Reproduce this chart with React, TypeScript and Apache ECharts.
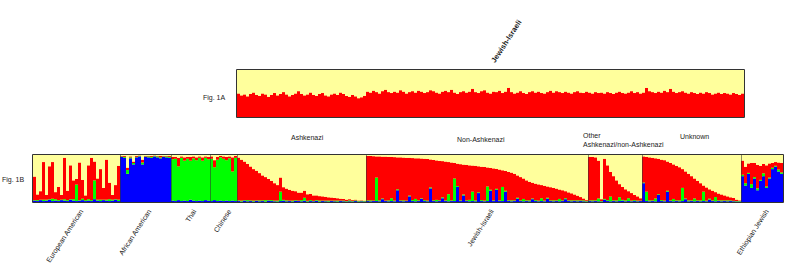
import React, { useEffect, useRef } from "react";
import * as echarts from "echarts";

// ---------- Fig. 1A : Jewish-Israeli, two clusters (red share; yellow is the remainder)
const fig1ARed = [
  0.50,0.46,0.48,0.44,0.49,0.52,0.47,0.45,0.50,0.48,
  0.43,0.47,0.51,0.46,0.49,0.53,0.48,0.44,0.47,0.50,
  0.55,0.49,0.46,0.48,0.52,0.47,0.45,0.49,0.51,0.46,
  0.44,0.48,0.50,0.47,0.52,0.49,0.45,0.43,0.47,0.44,
  0.40,0.42,0.45,
  0.54,0.52,0.56,0.53,0.50,0.55,0.58,0.53,0.51,0.54,
  0.52,0.57,0.54,0.50,0.53,0.55,0.52,0.56,0.54,0.51,
  0.53,0.57,0.55,0.52,0.50,0.54,0.56,0.53,0.58,0.52,
  0.49,0.53,0.55,0.52,0.54,0.60,0.53,0.51,0.55,0.57,
  0.52,0.50,0.54,0.53,0.56,0.51,0.54,0.62,0.53,0.50,
  0.52,0.55,0.51,0.49,0.53,0.55,0.52,0.54,0.51,0.50,
  0.53,0.56,0.52,0.55,0.53,0.51,0.54,0.52,0.50,0.53,
  0.55,0.52,0.51,0.54,0.52,0.50,0.53,0.51,
  0.52,0.50,0.53,0.51,0.49,0.52,0.54,0.51,0.50,0.52,
  0.55,0.51,0.53,0.50,0.52,0.62,0.55,0.53,0.51,0.54,
  0.52,0.56,0.53,0.60,0.54,0.51,0.53,0.55,0.52,0.50,
  0.53,0.51,0.49,0.52,0.50,0.53,0.51,0.48,0.50,0.52,
  0.49,0.51,0.50,0.48,0.51,0.49,0.47,0.50,
];

// ---------- Fig. 1B : four clusters per population (blue, green, red; yellow is the remainder)
const eaRed = [0.5,0.12,0.18,0.8,0.1,0.7,0.78,0.15,0.28,0.1,0.88,0.2,0.72,0.4,0.12,0.8,0.4,0.1,0.72,0.9,0.4,0.45,0.65,0.25,0.85,0.35,0.1,0.3,0.72];
const eaBlue = [0.03,0.02,0.04,0.02,0.03,0.05,0.02,0.03,0.02,0.04,0.03,0.02,0.05,0.03,0.02,0.03,0.04,0.02,0.03,0.02,0.06,0.03,0.02,0.04,0.03,0.02,0.03,0.05,0.02];
const eaGreen = [0.01,0.02,0.01,0.03,0.02,0.01,0.05,0.03,0.02,0.01,0.03,0.02,0.01,0.03,0.35,0.01,0.03,0.02,0.03,0.02,0.4,0.02,0.03,0.01,0.02,0.04,0.02,0.01,0.03];

const aaBlue = [0.96,0.94,0.6,0.93,0.8,0.95,0.97,0.8,0.96,0.95,0.94,0.97,0.95,0.93,0.96,0.95,0.94];
const aaGreen = [0.01,0.02,0.08,0.02,0.03,0.01,0.01,0.04,0.01,0.02,0.02,0.01,0.02,0.02,0.01,0.02,0.02];
const aaRed = [0.01,0.02,0.05,0.02,0.03,0.02,0.01,0.06,0.01,0.01,0.02,0.01,0.01,0.03,0.01,0.01,0.02];

const thaiBlue = [0.03,0.02,0.04,0.02,0.03,0.02,0.05,0.03,0.02,0.03,0.02,0.04,0.03];
const thaiGreen = [0.88,0.9,0.72,0.92,0.85,0.9,0.83,0.9,0.87,0.91,0.86,0.9,0.88];
const thaiRed = [0.05,0.04,0.18,0.03,0.07,0.04,0.08,0.04,0.06,0.03,0.07,0.03,0.05];

const chBlue = [0.02,0.04,0.02,0.03,0.02,0.03,0.02,0.03,0.02];
const chGreen = [0.9,0.7,0.88,0.92,0.9,0.86,0.91,0.62,0.92];
const chRed = [0.05,0.15,0.06,0.03,0.05,0.07,0.04,0.3,0.04];

const ashRed = [0.91,0.87,0.82,0.77,0.72,0.67,0.63,0.58,0.53,0.49,0.45,0.41,0.37,0.33,0.30,0.27,0.25,0.23,0.21,0.19,0.17,0.16,0.15,0.14,0.13,0.115,0.10,0.095,0.09,0.08,0.07,0.065,0.055,0.05,0.04,0.035,0.03,0.025,0.02,0.015,0.012,0.01,0.008];
const ashBlue = [0.02,0.01,0.03,0.015,0.02,0.01,0.025,0.015,0.02,0.01,0.03,0.02,0.015,0.01,0.02,0.03,0.015,0.02,0.01,0.025,0.02,0.015,0.03,0.01,0.02,0.015,0.025,0.01,0.02,0.015,0.01,0.02,0.015,0.01,0.02,0.015,0.01,0.015,0.01,0.02,0.01,0.015,0.01];
const ashGreen = [0.015,0.02,0.01,0.025,0.015,0.02,0.01,0.02,0.015,0.03,0.01,0.02,0.015,0.02,0.2,0.015,0.02,0.01,0.02,0.015,0.01,0.025,0.06,0.015,0.02,0.01,0.015,0.02,0.01,0.015,0.02,0.01,0.015,0.02,0.01,0.015,0.01,0.02,0.01,0.015,0.01,0.01,0.01];

const nonAshRed = [0.945,0.945,0.945,0.45,0.935,0.89,0.935,0.925,0.88,0.925,0.68,0.915,0.91,0.91,0.805,0.895,0.865,0.895,0.845,0.88,0.885,0.595,0.86,0.84,0.84,0.77,0.825,0.685,0.805,0.33,0.475,0.77,0.635,0.755,0.735,0.555,0.735,0.555,0.71,0.715,0.405,0.465,0.68,0.425,0.655,0.355,0.42,0.605,0.59,0.565,0.475,0.495,0.435,0.425,0.395,0.335,0.35,0.345,0.28,0.315,0.24,0.28,0.265,0.25,0.2,0.215,0.15,0.17,0.15,0.125,0.1,0.07,0.04,0.02];
const nonAshBlue = [0.02,0.015,0.02,0.02,0.015,0.06,0.02,0.015,0.02,0.015,0.25,0.02,0.015,0.02,0.12,0.02,0.015,0.02,0.07,0.02,0.015,0.29,0.02,0.015,0.02,0.08,0.02,0.015,0.02,0.02,0.32,0.02,0.14,0.02,0.015,0.02,0.015,0.19,0.02,0.015,0.02,0.24,0.02,0.26,0.02,0.02,0.22,0.02,0.015,0.02,0.07,0.02,0.015,0.02,0.015,0.06,0.02,0.015,0.02,0.015,0.07,0.02,0.015,0.02,0.015,0.02,0.06,0.02,0.015,0.02,0.015,0.02,0.015,0.01];
const nonAshGreen = [0.015,0.02,0.01,0.5,0.02,0.015,0.01,0.02,0.06,0.015,0.02,0.015,0.02,0.01,0.015,0.02,0.05,0.015,0.01,0.02,0.015,0.02,0.015,0.03,0.015,0.02,0.015,0.15,0.015,0.48,0.02,0.015,0.02,0.015,0.03,0.2,0.02,0.015,0.02,0.015,0.31,0.02,0.015,0.02,0.015,0.3,0.02,0.015,0.02,0.015,0.02,0.015,0.05,0.015,0.02,0.015,0.02,0.015,0.06,0.015,0.02,0.015,0.02,0.015,0.05,0.015,0.02,0.015,0.02,0.015,0.02,0.015,0.02,0.01];

const otherRed = [0.925,0.925,0.915,0.805,0.04,0.855,0.74,0.525,0.515,0.425,0.28,0.275,0.235,0.15,0.16,0.11,0.09,0.05];
const otherBlue = [0.02,0.015,0.02,0.015,0.01,0.05,0.02,0.015,0.02,0.015,0.02,0.03,0.015,0.02,0.015,0.02,0.015,0.02];
const otherGreen = [0.015,0.02,0.015,0.06,0.01,0.015,0.02,0.1,0.015,0.02,0.08,0.015,0.02,0.06,0.015,0.02,0.015,0.01];

const unkRed = [0.555,0.74,0.915,0.905,0.855,0.755,0.86,0.86,0.62,0.795,0.735,0.735,0.705,0.4,0.575,0.565,0.515,0.425,0.415,0.365,0.13,0.28,0.2,0.205,0.105,0.145,0.125,0.105,0.085,0.065,0.06,0.03,0.015];
const unkBlue = [0.4,0.02,0.015,0.02,0.015,0.15,0.02,0.015,0.22,0.02,0.015,0.02,0.015,0.02,0.06,0.015,0.02,0.015,0.02,0.015,0.02,0.015,0.05,0.02,0.015,0.02,0.015,0.02,0.015,0.02,0.015,0.01,0.01];
const unkGreen = [0.015,0.2,0.02,0.015,0.06,0.015,0.02,0.015,0.02,0.015,0.05,0.015,0.02,0.28,0.015,0.02,0.015,0.06,0.015,0.02,0.2,0.015,0.02,0.015,0.09,0.015,0.02,0.015,0.02,0.015,0.01,0.01,0.01];

const ethBlue = [0.55,0.35,0.6,0.3,0.5,0.25,0.45,0.55,0.3,0.5,0.7,0.75,0.65,0.6];
const ethGreen = [0.03,0.05,0.02,0.08,0.03,0.04,0.02,0.06,0.03,0.02,0.03,0.02,0.04,0.03];
const ethRed = [0.3,0.35,0.2,0.45,0.3,0.5,0.3,0.2,0.45,0.3,0.1,0.08,0.15,0.2];

const populations = [
  "European American", "African American", "Thai", "Chinese",
  "Ashkenazi", "Non-Ashkenazi", "Other Ashkenazi/non-Ashkenazi", "Unknown", "Ethiopian Jewish",
];
const popBlue = [eaBlue, aaBlue, thaiBlue, chBlue, ashBlue, nonAshBlue, otherBlue, unkBlue, ethBlue];
const popGreen = [eaGreen, aaGreen, thaiGreen, chGreen, ashGreen, nonAshGreen, otherGreen, unkGreen, ethGreen];
const popRed = [eaRed, aaRed, thaiRed, chRed, ashRed, nonAshRed, otherRed, unkRed, ethRed];

// ---------- layout / style
const G1A = { left: 237, top: 70, width: 507, height: 47 };
const G1B = { left: 33, top: 155, width: 750, height: 47 };
const RED = "#FF0000";
const YELLOW = "#FFFF9C";
const BLUE = "#0000FF";
const GREEN = "#00FF00";
const FONT = "'Liberation Sans', Arial, sans-serif";
const ANG = (57 * Math.PI) / 180;

export default function App() {
  const ref = useRef<HTMLDivElement>(null);

  useEffect(() => {
    const chart = echarts.init(ref.current as HTMLDivElement, null, { renderer: "svg" });

    const yellow1A = fig1ARed.map((r) => Math.max(0, 1 - r));
    const blue1B = popBlue.flat();
    const green1B = popGreen.flat();
    const red1B = popRed.flat();
    const yellow1B = blue1B.map((b, i) => Math.max(0, 1 - b - green1B[i] - red1B[i]));
    const cats1A = fig1ARed.map((_, i) => "a" + i);
    const cats1B = blue1B.map((_, i) => "b" + i);

    const barSeries = (name: string, data: number[], color: string, axis: number, stack: string) => ({
      type: "bar",
      name,
      data,
      xAxisIndex: axis,
      yAxisIndex: axis,
      stack,
      barCategoryGap: "0%",
      itemStyle: { color },
      emphasis: { disabled: true },
    });

    chart.setOption({
      animation: false,
      grid: [
        { ...G1A, show: true, backgroundColor: YELLOW, borderWidth: 0 },
        { ...G1B, show: true, backgroundColor: YELLOW, borderWidth: 0 },
      ],
      xAxis: [
        { type: "category", gridIndex: 0, data: cats1A, show: false },
        { type: "category", gridIndex: 1, data: cats1B, show: false },
      ],
      yAxis: [
        { type: "value", gridIndex: 0, min: 0, max: 1, show: false },
        { type: "value", gridIndex: 1, min: 0, max: 1, show: false },
      ],
      series: [
        barSeries("1A red", fig1ARed, RED, 0, "a"),
        barSeries("1A yellow", yellow1A, YELLOW, 0, "a"),
        barSeries("1B blue", blue1B, BLUE, 1, "b"),
        barSeries("1B green", green1B, GREEN, 1, "b"),
        barSeries("1B red", red1B, RED, 1, "b"),
        barSeries("1B yellow", yellow1B, YELLOW, 1, "b"),
      ],
    });

    // population boundaries and centres, through the category axis
    const px = (i: number) => chart.convertToPixel({ xAxisIndex: 1 }, cats1B[i]) as number;
    const step = px(1) - px(0);
    const edges: number[] = [];
    let acc = 0;
    popBlue.forEach((arr) => {
      edges.push(px(acc) - step / 2);
      acc += arr.length;
    });
    edges.push(px(acc - 1) + step / 2);
    const centre = (k: number) => (edges[k] + edges[k + 1]) / 2;

    const txt = (text: string, x: number, y: number, extra: any = {}) => ({
      type: "text",
      x,
      y,
      z: 100,
      rotation: extra.rotation || 0,
      style: {
        text,
        fill: "#1a1a1a",
        font: `${extra.bold ? "bold " : ""}${extra.size || 7}px ${FONT}`,
        align: extra.align || "left",
        verticalAlign: "middle",
      },
    });

    const graphics: any[] = [
      {
        type: "rect", z: 100,
        shape: { x: G1A.left - 0.5, y: G1A.top - 0.5, width: G1A.width + 1, height: G1A.height + 1 },
        style: { fill: "none", stroke: "#333", lineWidth: 1 },
      },
      {
        type: "rect", z: 100,
        shape: { x: G1B.left - 0.5, y: G1B.top - 0.5, width: G1B.width + 1, height: G1B.height + 1 },
        style: { fill: "none", stroke: "#333", lineWidth: 1 },
      },
    ];
    for (let k = 1; k < edges.length - 1; k++) {
      const x = Math.round(edges[k]) + 0.5;
      graphics.push({
        type: "line", z: 99,
        shape: { x1: x, y1: G1B.top, x2: x, y2: G1B.top + G1B.height },
        style: { stroke: "#333", lineWidth: 0.8, opacity: 0.7 },
      });
    }

    // texts
    graphics.push(txt("Fig. 1A", 203, 97));
    graphics.push(txt("Fig. 1B", 2, 179));
    graphics.push(txt("Jewish-Israeli", 493, 62, { bold: true, size: 7.5, rotation: ANG }));
    graphics.push(txt("Ashkenazi", 291, 137));
    graphics.push(txt("Non-Ashkenazi", 457, 139));
    graphics.push(txt("Other", 583, 135.5));
    graphics.push(txt("Ashkenazi/non-Ashkenazi", 583, 144.5));
    graphics.push(txt("Unknown", 680, 136));

    const below = (text: string, x: number) =>
      txt(text, x, 210, { align: "right", rotation: ANG });
    graphics.push(below(populations[0], centre(0) + 5));
    graphics.push(below(populations[1], centre(1) + 4));
    graphics.push(below("Thai", centre(2) + 4));
    graphics.push(below("Chinese", centre(3) + 6));
    graphics.push(below("Jewish-Israeli", (edges[4] + edges[8]) / 2 + 3));
    graphics.push(below(populations[8], centre(8) + 5));

    chart.setOption({ graphic: graphics });

    return () => chart.dispose();
  }, []);

  return (
    <div
      ref={ref}
      style={{ position: "absolute", left: 0, top: 0, width: 785, height: 267, background: "#fff" }}
    />
  );
}
